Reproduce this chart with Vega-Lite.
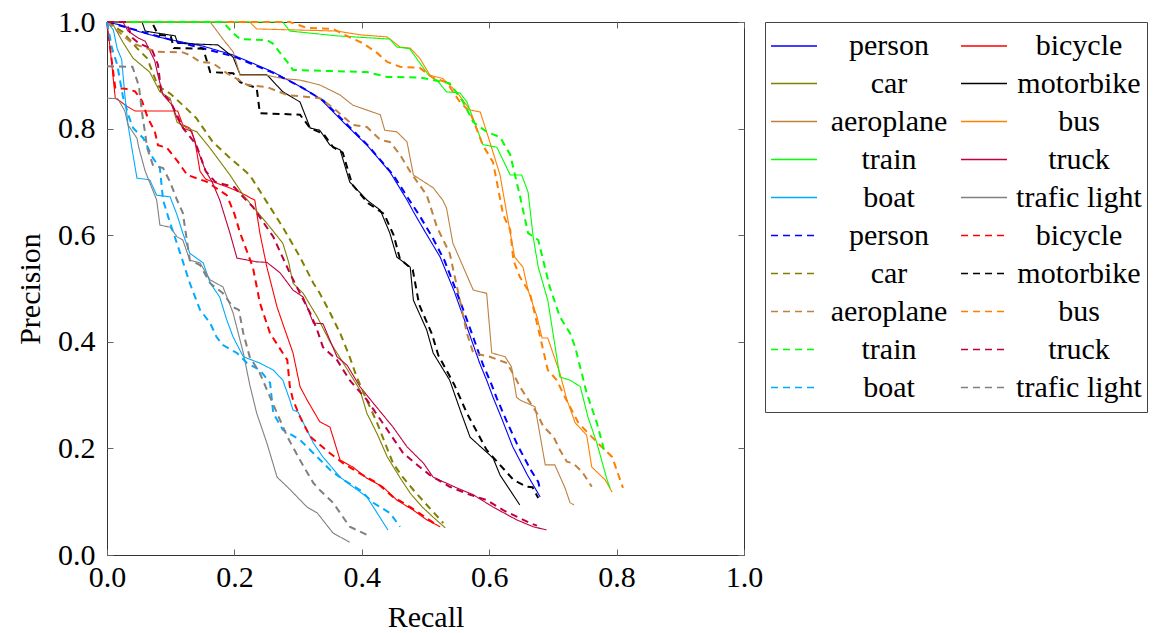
{
  "$schema": "https://vega.github.io/schema/vega-lite/v6.json",
  "width": 637,
  "height": 533,
  "autosize": {"type": "none"},
  "padding": {"left": 107, "top": 22, "right": 423, "bottom": 78},
  "background": "white",
  "config": {
    "font": "Liberation Serif",
    "view": {"stroke": "#333", "strokeWidth": 1},
    "axis": {"grid": false, "labelColor": "black", "titleColor": "black", "labelFont": "Liberation Serif", "titleFont": "Liberation Serif", "labelFontSize": 30, "titleFontSize": 30, "titleFontWeight": "normal", "tickColor": "#666", "tickWidth": 1, "domain": false, "labelFlush": false, "labelOverlap": false}
  },
  "data": {"values": [
    {"series":"person (A)","recall":0,"precision":1},{"series":"person (A)","recall":0.023,"precision":0.994},{"series":"person (A)","recall":0.05,"precision":0.982},{"series":"person (A)","recall":0.08,"precision":0.972},{"series":"person (A)","recall":0.115,"precision":0.963},{"series":"person (A)","recall":0.15,"precision":0.955},{"series":"person (A)","recall":0.198,"precision":0.938},{"series":"person (A)","recall":0.23,"precision":0.922},{"series":"person (A)","recall":0.261,"precision":0.906},{"series":"person (A)","recall":0.303,"precision":0.879},{"series":"person (A)","recall":0.334,"precision":0.857},{"series":"person (A)","recall":0.371,"precision":0.812},{"series":"person (A)","recall":0.408,"precision":0.769},{"series":"person (A)","recall":0.444,"precision":0.719},{"series":"person (A)","recall":0.471,"precision":0.666},{"series":"person (A)","recall":0.481,"precision":0.644},{"series":"person (A)","recall":0.5,"precision":0.605},{"series":"person (A)","recall":0.523,"precision":0.559},{"series":"person (A)","recall":0.545,"precision":0.495},{"series":"person (A)","recall":0.565,"precision":0.428},{"series":"person (A)","recall":0.585,"precision":0.36},{"series":"person (A)","recall":0.596,"precision":0.328},{"series":"person (A)","recall":0.606,"precision":0.296},{"series":"person (A)","recall":0.62,"precision":0.255},{"series":"person (A)","recall":0.637,"precision":0.203},{"series":"person (A)","recall":0.66,"precision":0.15},{"series":"person (A)","recall":0.68,"precision":0.109},
    {"series":"bicycle (A)","recall":0,"precision":1},{"series":"bicycle (A)","recall":0.005,"precision":0.95},{"series":"bicycle (A)","recall":0.013,"precision":0.857},{"series":"bicycle (A)","recall":0.02,"precision":0.852},{"series":"bicycle (A)","recall":0.031,"precision":0.842},{"series":"bicycle (A)","recall":0.044,"precision":0.833},{"series":"bicycle (A)","recall":0.111,"precision":0.833},{"series":"bicycle (A)","recall":0.119,"precision":0.807},{"series":"bicycle (A)","recall":0.13,"precision":0.801},{"series":"bicycle (A)","recall":0.138,"precision":0.777},{"series":"bicycle (A)","recall":0.146,"precision":0.72},{"series":"bicycle (A)","recall":0.155,"precision":0.705},{"series":"bicycle (A)","recall":0.19,"precision":0.69},{"series":"bicycle (A)","recall":0.21,"precision":0.68},{"series":"bicycle (A)","recall":0.225,"precision":0.67},{"series":"bicycle (A)","recall":0.232,"precision":0.666},{"series":"bicycle (A)","recall":0.24,"precision":0.604},{"series":"bicycle (A)","recall":0.251,"precision":0.54},{"series":"bicycle (A)","recall":0.267,"precision":0.465},{"series":"bicycle (A)","recall":0.28,"precision":0.42},{"series":"bicycle (A)","recall":0.292,"precision":0.379},{"series":"bicycle (A)","recall":0.303,"precision":0.316},{"series":"bicycle (A)","recall":0.314,"precision":0.291},{"series":"bicycle (A)","recall":0.334,"precision":0.25},{"series":"bicycle (A)","recall":0.35,"precision":0.24},{"series":"bicycle (A)","recall":0.366,"precision":0.178},{"series":"bicycle (A)","recall":0.386,"precision":0.165},{"series":"bicycle (A)","recall":0.408,"precision":0.144},{"series":"bicycle (A)","recall":0.433,"precision":0.128},{"series":"bicycle (A)","recall":0.455,"precision":0.103},{"series":"bicycle (A)","recall":0.481,"precision":0.084},{"series":"bicycle (A)","recall":0.502,"precision":0.066},{"series":"bicycle (A)","recall":0.523,"precision":0.053},
    {"series":"car (A)","recall":0,"precision":1},{"series":"car (A)","recall":0.01,"precision":0.994},{"series":"car (A)","recall":0.025,"precision":0.962},{"series":"car (A)","recall":0.041,"precision":0.932},{"series":"car (A)","recall":0.067,"precision":0.906},{"series":"car (A)","recall":0.083,"precision":0.869},{"series":"car (A)","recall":0.099,"precision":0.857},{"series":"car (A)","recall":0.11,"precision":0.812},{"series":"car (A)","recall":0.126,"precision":0.801},{"series":"car (A)","recall":0.141,"precision":0.794},{"series":"car (A)","recall":0.162,"precision":0.763},{"series":"car (A)","recall":0.193,"precision":0.713},{"series":"car (A)","recall":0.214,"precision":0.675},{"series":"car (A)","recall":0.24,"precision":0.638},{"series":"car (A)","recall":0.256,"precision":0.615},{"series":"car (A)","recall":0.276,"precision":0.585},{"series":"car (A)","recall":0.285,"precision":0.55},{"series":"car (A)","recall":0.292,"precision":0.51},{"series":"car (A)","recall":0.308,"precision":0.491},{"series":"car (A)","recall":0.33,"precision":0.447},{"series":"car (A)","recall":0.35,"precision":0.4},{"series":"car (A)","recall":0.371,"precision":0.36},{"series":"car (A)","recall":0.397,"precision":0.31},{"series":"car (A)","recall":0.408,"precision":0.266},{"series":"car (A)","recall":0.425,"precision":0.225},{"series":"car (A)","recall":0.44,"precision":0.184},{"series":"car (A)","recall":0.46,"precision":0.145},{"series":"car (A)","recall":0.476,"precision":0.116},{"series":"car (A)","recall":0.495,"precision":0.09},{"series":"car (A)","recall":0.512,"precision":0.071},{"series":"car (A)","recall":0.531,"precision":0.051},
    {"series":"motorbike (A)","recall":0,"precision":1},{"series":"motorbike (A)","recall":0.055,"precision":1},{"series":"motorbike (A)","recall":0.06,"precision":0.983},{"series":"motorbike (A)","recall":0.075,"precision":0.98},{"series":"motorbike (A)","recall":0.107,"precision":0.974},{"series":"motorbike (A)","recall":0.111,"precision":0.96},{"series":"motorbike (A)","recall":0.174,"precision":0.957},{"series":"motorbike (A)","recall":0.198,"precision":0.934},{"series":"motorbike (A)","recall":0.209,"precision":0.901},{"series":"motorbike (A)","recall":0.251,"precision":0.901},{"series":"motorbike (A)","recall":0.276,"precision":0.869},{"series":"motorbike (A)","recall":0.303,"precision":0.85},{"series":"motorbike (A)","recall":0.319,"precision":0.801},{"series":"motorbike (A)","recall":0.334,"precision":0.797},{"series":"motorbike (A)","recall":0.35,"precision":0.769},{"series":"motorbike (A)","recall":0.366,"precision":0.76},{"series":"motorbike (A)","recall":0.381,"precision":0.7},{"series":"motorbike (A)","recall":0.408,"precision":0.666},{"series":"motorbike (A)","recall":0.429,"precision":0.647},{"series":"motorbike (A)","recall":0.444,"precision":0.604},{"series":"motorbike (A)","recall":0.455,"precision":0.559},{"series":"motorbike (A)","recall":0.476,"precision":0.54},{"series":"motorbike (A)","recall":0.481,"precision":0.478},{"series":"motorbike (A)","recall":0.502,"precision":0.422},{"series":"motorbike (A)","recall":0.512,"precision":0.379},{"series":"motorbike (A)","recall":0.538,"precision":0.328},{"series":"motorbike (A)","recall":0.555,"precision":0.27},{"series":"motorbike (A)","recall":0.57,"precision":0.221},{"series":"motorbike (A)","recall":0.606,"precision":0.182},{"series":"motorbike (A)","recall":0.617,"precision":0.15},{"series":"motorbike (A)","recall":0.648,"precision":0.094},
    {"series":"aeroplane (A)","recall":0,"precision":1},{"series":"aeroplane (A)","recall":0.162,"precision":1},{"series":"aeroplane (A)","recall":0.182,"precision":0.968},{"series":"aeroplane (A)","recall":0.198,"precision":0.944},{"series":"aeroplane (A)","recall":0.209,"precision":0.9},{"series":"aeroplane (A)","recall":0.251,"precision":0.9},{"series":"aeroplane (A)","recall":0.276,"precision":0.894},{"series":"aeroplane (A)","recall":0.303,"precision":0.891},{"series":"aeroplane (A)","recall":0.334,"precision":0.882},{"series":"aeroplane (A)","recall":0.366,"precision":0.863},{"series":"aeroplane (A)","recall":0.386,"precision":0.844},{"series":"aeroplane (A)","recall":0.429,"precision":0.826},{"series":"aeroplane (A)","recall":0.436,"precision":0.797},{"series":"aeroplane (A)","recall":0.455,"precision":0.794},{"series":"aeroplane (A)","recall":0.471,"precision":0.775},{"series":"aeroplane (A)","recall":0.481,"precision":0.713},{"series":"aeroplane (A)","recall":0.512,"precision":0.689},{"series":"aeroplane (A)","recall":0.527,"precision":0.666},{"series":"aeroplane (A)","recall":0.533,"precision":0.651},{"series":"aeroplane (A)","recall":0.543,"precision":0.585},{"series":"aeroplane (A)","recall":0.575,"precision":0.497},{"series":"aeroplane (A)","recall":0.596,"precision":0.491},{"series":"aeroplane (A)","recall":0.604,"precision":0.379},{"series":"aeroplane (A)","recall":0.625,"precision":0.372},{"series":"aeroplane (A)","recall":0.635,"precision":0.353},{"series":"aeroplane (A)","recall":0.643,"precision":0.296},{"series":"aeroplane (A)","recall":0.648,"precision":0.291},{"series":"aeroplane (A)","recall":0.672,"precision":0.278},{"series":"aeroplane (A)","recall":0.688,"precision":0.169},{"series":"aeroplane (A)","recall":0.703,"precision":0.169},{"series":"aeroplane (A)","recall":0.719,"precision":0.126},{"series":"aeroplane (A)","recall":0.727,"precision":0.098},{"series":"aeroplane (A)","recall":0.733,"precision":0.094},
    {"series":"bus (A)","recall":0,"precision":1},{"series":"bus (A)","recall":0.224,"precision":1},{"series":"bus (A)","recall":0.235,"precision":0.987},{"series":"bus (A)","recall":0.361,"precision":0.983},{"series":"bus (A)","recall":0.397,"precision":0.976},{"series":"bus (A)","recall":0.44,"precision":0.972},{"series":"bus (A)","recall":0.46,"precision":0.953},{"series":"bus (A)","recall":0.476,"precision":0.951},{"series":"bus (A)","recall":0.491,"precision":0.932},{"series":"bus (A)","recall":0.507,"precision":0.9},{"series":"bus (A)","recall":0.527,"precision":0.894},{"series":"bus (A)","recall":0.549,"precision":0.869},{"series":"bus (A)","recall":0.57,"precision":0.835},{"series":"bus (A)","recall":0.586,"precision":0.831},{"series":"bus (A)","recall":0.601,"precision":0.775},{"series":"bus (A)","recall":0.617,"precision":0.713},{"series":"bus (A)","recall":0.628,"precision":0.638},{"series":"bus (A)","recall":0.64,"precision":0.559},{"series":"bus (A)","recall":0.653,"precision":0.54},{"series":"bus (A)","recall":0.661,"precision":0.497},{"series":"bus (A)","recall":0.675,"precision":0.447},{"series":"bus (A)","recall":0.683,"precision":0.407},{"series":"bus (A)","recall":0.692,"precision":0.407},{"series":"bus (A)","recall":0.711,"precision":0.341},{"series":"bus (A)","recall":0.722,"precision":0.291},{"series":"bus (A)","recall":0.735,"precision":0.248},{"series":"bus (A)","recall":0.753,"precision":0.225},{"series":"bus (A)","recall":0.761,"precision":0.165},{"series":"bus (A)","recall":0.782,"precision":0.141},{"series":"bus (A)","recall":0.793,"precision":0.118},
    {"series":"train (A)","recall":0,"precision":1},{"series":"train (A)","recall":0.276,"precision":1},{"series":"train (A)","recall":0.287,"precision":0.983},{"series":"train (A)","recall":0.361,"precision":0.974},{"series":"train (A)","recall":0.444,"precision":0.968},{"series":"train (A)","recall":0.455,"precision":0.953},{"series":"train (A)","recall":0.475,"precision":0.95},{"series":"train (A)","recall":0.49,"precision":0.925},{"series":"train (A)","recall":0.505,"precision":0.9},{"series":"train (A)","recall":0.518,"precision":0.891},{"series":"train (A)","recall":0.533,"precision":0.869},{"series":"train (A)","recall":0.554,"precision":0.867},{"series":"train (A)","recall":0.565,"precision":0.85},{"series":"train (A)","recall":0.59,"precision":0.77},{"series":"train (A)","recall":0.612,"precision":0.765},{"series":"train (A)","recall":0.633,"precision":0.713},{"series":"train (A)","recall":0.651,"precision":0.713},{"series":"train (A)","recall":0.661,"precision":0.681},{"series":"train (A)","recall":0.669,"precision":0.597},{"series":"train (A)","recall":0.677,"precision":0.54},{"series":"train (A)","recall":0.692,"precision":0.478},{"series":"train (A)","recall":0.711,"precision":0.334},{"series":"train (A)","recall":0.727,"precision":0.328},{"series":"train (A)","recall":0.743,"precision":0.316},{"series":"train (A)","recall":0.755,"precision":0.259},{"series":"train (A)","recall":0.769,"precision":0.21},{"series":"train (A)","recall":0.785,"precision":0.141},{"series":"train (A)","recall":0.79,"precision":0.125},
    {"series":"truck (A)","recall":0,"precision":1},{"series":"truck (A)","recall":0.025,"precision":1},{"series":"truck (A)","recall":0.033,"precision":0.983},{"series":"truck (A)","recall":0.049,"precision":0.97},{"series":"truck (A)","recall":0.06,"precision":0.964},{"series":"truck (A)","recall":0.075,"precision":0.927},{"series":"truck (A)","recall":0.08,"precision":0.9},{"series":"truck (A)","recall":0.088,"precision":0.863},{"series":"truck (A)","recall":0.102,"precision":0.844},{"series":"truck (A)","recall":0.11,"precision":0.82},{"series":"truck (A)","recall":0.119,"precision":0.801},{"series":"truck (A)","recall":0.133,"precision":0.795},{"series":"truck (A)","recall":0.141,"precision":0.764},{"series":"truck (A)","recall":0.155,"precision":0.72},{"series":"truck (A)","recall":0.165,"precision":0.7},{"series":"truck (A)","recall":0.177,"precision":0.666},{"series":"truck (A)","recall":0.193,"precision":0.604},{"series":"truck (A)","recall":0.204,"precision":0.557},{"series":"truck (A)","recall":0.235,"precision":0.55},{"series":"truck (A)","recall":0.251,"precision":0.549},{"series":"truck (A)","recall":0.272,"precision":0.529},{"series":"truck (A)","recall":0.292,"precision":0.497},{"series":"truck (A)","recall":0.308,"precision":0.484},{"series":"truck (A)","recall":0.324,"precision":0.435},{"series":"truck (A)","recall":0.339,"precision":0.434},{"series":"truck (A)","recall":0.361,"precision":0.372},{"series":"truck (A)","recall":0.377,"precision":0.356},{"series":"truck (A)","recall":0.397,"precision":0.316},{"series":"truck (A)","recall":0.418,"precision":0.285},{"series":"truck (A)","recall":0.449,"precision":0.24},{"series":"truck (A)","recall":0.471,"precision":0.203},{"series":"truck (A)","recall":0.497,"precision":0.172},{"series":"truck (A)","recall":0.512,"precision":0.146},{"series":"truck (A)","recall":0.549,"precision":0.126},{"series":"truck (A)","recall":0.575,"precision":0.113},{"series":"truck (A)","recall":0.606,"precision":0.09},{"series":"truck (A)","recall":0.643,"precision":0.066},{"series":"truck (A)","recall":0.669,"precision":0.053},{"series":"truck (A)","recall":0.69,"precision":0.047},
    {"series":"boat (A)","recall":0,"precision":1},{"series":"boat (A)","recall":0.01,"precision":0.985},{"series":"boat (A)","recall":0.016,"precision":0.95},{"series":"boat (A)","recall":0.023,"precision":0.93},{"series":"boat (A)","recall":0.028,"precision":0.863},{"series":"boat (A)","recall":0.033,"precision":0.807},{"series":"boat (A)","recall":0.039,"precision":0.764},{"series":"boat (A)","recall":0.047,"precision":0.707},{"series":"boat (A)","recall":0.067,"precision":0.704},{"series":"boat (A)","recall":0.078,"precision":0.675},{"series":"boat (A)","recall":0.099,"precision":0.672},{"series":"boat (A)","recall":0.11,"precision":0.638},{"series":"boat (A)","recall":0.119,"precision":0.604},{"series":"boat (A)","recall":0.13,"precision":0.566},{"series":"boat (A)","recall":0.151,"precision":0.548},{"series":"boat (A)","recall":0.162,"precision":0.51},{"series":"boat (A)","recall":0.177,"precision":0.484},{"series":"boat (A)","recall":0.188,"precision":0.441},{"series":"boat (A)","recall":0.198,"precision":0.409},{"series":"boat (A)","recall":0.214,"precision":0.372},{"series":"boat (A)","recall":0.24,"precision":0.36},{"series":"boat (A)","recall":0.261,"precision":0.347},{"series":"boat (A)","recall":0.276,"precision":0.328},{"series":"boat (A)","recall":0.287,"precision":0.291},{"series":"boat (A)","recall":0.292,"precision":0.272},{"series":"boat (A)","recall":0.3,"precision":0.268},{"series":"boat (A)","recall":0.324,"precision":0.21},{"series":"boat (A)","recall":0.339,"precision":0.184},{"series":"boat (A)","recall":0.366,"precision":0.146},{"series":"boat (A)","recall":0.386,"precision":0.128},{"series":"boat (A)","recall":0.408,"precision":0.109},{"series":"boat (A)","recall":0.424,"precision":0.079},{"series":"boat (A)","recall":0.441,"precision":0.047},
    {"series":"trafic light (A)","recall":0,"precision":0.857},{"series":"trafic light (A)","recall":0.017,"precision":0.856},{"series":"trafic light (A)","recall":0.028,"precision":0.833},{"series":"trafic light (A)","recall":0.033,"precision":0.807},{"series":"trafic light (A)","recall":0.047,"precision":0.782},{"series":"trafic light (A)","recall":0.05,"precision":0.764},{"series":"trafic light (A)","recall":0.06,"precision":0.72},{"series":"trafic light (A)","recall":0.07,"precision":0.69},{"series":"trafic light (A)","recall":0.078,"precision":0.666},{"series":"trafic light (A)","recall":0.083,"precision":0.619},{"series":"trafic light (A)","recall":0.099,"precision":0.615},{"series":"trafic light (A)","recall":0.11,"precision":0.597},{"series":"trafic light (A)","recall":0.119,"precision":0.591},{"series":"trafic light (A)","recall":0.13,"precision":0.553},{"series":"trafic light (A)","recall":0.146,"precision":0.548},{"series":"trafic light (A)","recall":0.162,"precision":0.516},{"series":"trafic light (A)","recall":0.182,"precision":0.503},{"series":"trafic light (A)","recall":0.198,"precision":0.454},{"series":"trafic light (A)","recall":0.214,"precision":0.379},{"series":"trafic light (A)","recall":0.224,"precision":0.32},{"series":"trafic light (A)","recall":0.235,"precision":0.266},{"series":"trafic light (A)","recall":0.251,"precision":0.21},{"series":"trafic light (A)","recall":0.267,"precision":0.146},{"series":"trafic light (A)","recall":0.283,"precision":0.128},{"series":"trafic light (A)","recall":0.314,"precision":0.09},{"series":"trafic light (A)","recall":0.33,"precision":0.079},{"series":"trafic light (A)","recall":0.355,"precision":0.041},{"series":"trafic light (A)","recall":0.381,"precision":0.024},
    {"series":"person (B)","recall":0,"precision":1},{"series":"person (B)","recall":0.03,"precision":0.99},{"series":"person (B)","recall":0.06,"precision":0.98},{"series":"person (B)","recall":0.12,"precision":0.96},{"series":"person (B)","recall":0.2,"precision":0.935},{"series":"person (B)","recall":0.26,"precision":0.905},{"series":"person (B)","recall":0.305,"precision":0.878},{"series":"person (B)","recall":0.34,"precision":0.852},{"series":"person (B)","recall":0.375,"precision":0.81},{"series":"person (B)","recall":0.41,"precision":0.768},{"series":"person (B)","recall":0.45,"precision":0.712},{"series":"person (B)","recall":0.475,"precision":0.665},{"series":"person (B)","recall":0.49,"precision":0.638},{"series":"person (B)","recall":0.51,"precision":0.598},{"series":"person (B)","recall":0.53,"precision":0.552},{"series":"person (B)","recall":0.55,"precision":0.49},{"series":"person (B)","recall":0.57,"precision":0.425},{"series":"person (B)","recall":0.59,"precision":0.358},{"series":"person (B)","recall":0.602,"precision":0.325},{"series":"person (B)","recall":0.612,"precision":0.294},{"series":"person (B)","recall":0.627,"precision":0.252},{"series":"person (B)","recall":0.645,"precision":0.205},{"series":"person (B)","recall":0.665,"precision":0.16},{"series":"person (B)","recall":0.677,"precision":0.137},{"series":"person (B)","recall":0.68,"precision":0.122},
    {"series":"bicycle (B)","recall":0,"precision":1},{"series":"bicycle (B)","recall":0.005,"precision":0.95},{"series":"bicycle (B)","recall":0.013,"precision":0.876},{"series":"bicycle (B)","recall":0.028,"precision":0.875},{"series":"bicycle (B)","recall":0.044,"precision":0.87},{"series":"bicycle (B)","recall":0.055,"precision":0.852},{"series":"bicycle (B)","recall":0.064,"precision":0.82},{"series":"bicycle (B)","recall":0.075,"precision":0.795},{"series":"bicycle (B)","recall":0.08,"precision":0.769},{"series":"bicycle (B)","recall":0.094,"precision":0.764},{"series":"bicycle (B)","recall":0.11,"precision":0.74},{"series":"bicycle (B)","recall":0.126,"precision":0.713},{"series":"bicycle (B)","recall":0.157,"precision":0.7},{"series":"bicycle (B)","recall":0.188,"precision":0.675},{"series":"bicycle (B)","recall":0.2,"precision":0.64},{"series":"bicycle (B)","recall":0.209,"precision":0.604},{"series":"bicycle (B)","recall":0.229,"precision":0.54},{"series":"bicycle (B)","recall":0.24,"precision":0.473},{"series":"bicycle (B)","recall":0.256,"precision":0.416},{"series":"bicycle (B)","recall":0.27,"precision":0.39},{"series":"bicycle (B)","recall":0.283,"precision":0.366},{"series":"bicycle (B)","recall":0.287,"precision":0.316},{"series":"bicycle (B)","recall":0.292,"precision":0.291},{"series":"bicycle (B)","recall":0.303,"precision":0.259},{"series":"bicycle (B)","recall":0.319,"precision":0.222},{"series":"bicycle (B)","recall":0.35,"precision":0.191},{"series":"bicycle (B)","recall":0.371,"precision":0.172},{"series":"bicycle (B)","recall":0.397,"precision":0.153},{"series":"bicycle (B)","recall":0.424,"precision":0.135},{"series":"bicycle (B)","recall":0.449,"precision":0.109},{"series":"bicycle (B)","recall":0.476,"precision":0.09},{"series":"bicycle (B)","recall":0.518,"precision":0.056},
    {"series":"car (B)","recall":0,"precision":1},{"series":"car (B)","recall":0.025,"precision":0.981},{"series":"car (B)","recall":0.047,"precision":0.951},{"series":"car (B)","recall":0.063,"precision":0.932},{"series":"car (B)","recall":0.08,"precision":0.88},{"series":"car (B)","recall":0.1,"precision":0.865},{"series":"car (B)","recall":0.119,"precision":0.844},{"series":"car (B)","recall":0.14,"precision":0.82},{"series":"car (B)","recall":0.166,"precision":0.775},{"series":"car (B)","recall":0.193,"precision":0.745},{"series":"car (B)","recall":0.224,"precision":0.713},{"series":"car (B)","recall":0.251,"precision":0.662},{"series":"car (B)","recall":0.276,"precision":0.615},{"series":"car (B)","recall":0.303,"precision":0.559},{"series":"car (B)","recall":0.324,"precision":0.51},{"series":"car (B)","recall":0.334,"precision":0.491},{"series":"car (B)","recall":0.35,"precision":0.455},{"series":"car (B)","recall":0.366,"precision":0.416},{"series":"car (B)","recall":0.38,"precision":0.375},{"series":"car (B)","recall":0.392,"precision":0.334},{"series":"car (B)","recall":0.408,"precision":0.29},{"series":"car (B)","recall":0.424,"precision":0.248},{"series":"car (B)","recall":0.449,"precision":0.172},{"series":"car (B)","recall":0.465,"precision":0.145},{"series":"car (B)","recall":0.481,"precision":0.122},{"series":"car (B)","recall":0.505,"precision":0.09},{"series":"car (B)","recall":0.528,"precision":0.06},
    {"series":"motorbike (B)","recall":0,"precision":1},{"series":"motorbike (B)","recall":0.07,"precision":1},{"series":"motorbike (B)","recall":0.075,"precision":0.989},{"series":"motorbike (B)","recall":0.08,"precision":0.976},{"series":"motorbike (B)","recall":0.1,"precision":0.974},{"series":"motorbike (B)","recall":0.105,"precision":0.951},{"series":"motorbike (B)","recall":0.151,"precision":0.95},{"series":"motorbike (B)","recall":0.162,"precision":0.906},{"series":"motorbike (B)","recall":0.198,"precision":0.904},{"series":"motorbike (B)","recall":0.209,"precision":0.887},{"series":"motorbike (B)","recall":0.235,"precision":0.876},{"series":"motorbike (B)","recall":0.24,"precision":0.829},{"series":"motorbike (B)","recall":0.303,"precision":0.826},{"series":"motorbike (B)","recall":0.319,"precision":0.801},{"series":"motorbike (B)","recall":0.34,"precision":0.79},{"series":"motorbike (B)","recall":0.355,"precision":0.765},{"series":"motorbike (B)","recall":0.37,"precision":0.755},{"series":"motorbike (B)","recall":0.385,"precision":0.695},{"series":"motorbike (B)","recall":0.41,"precision":0.66},{"series":"motorbike (B)","recall":0.435,"precision":0.64},{"series":"motorbike (B)","recall":0.45,"precision":0.6},{"series":"motorbike (B)","recall":0.46,"precision":0.555},{"series":"motorbike (B)","recall":0.48,"precision":0.535},{"series":"motorbike (B)","recall":0.49,"precision":0.47},{"series":"motorbike (B)","recall":0.51,"precision":0.415},{"series":"motorbike (B)","recall":0.52,"precision":0.375},{"series":"motorbike (B)","recall":0.545,"precision":0.32},{"series":"motorbike (B)","recall":0.565,"precision":0.266},{"series":"motorbike (B)","recall":0.596,"precision":0.197},{"series":"motorbike (B)","recall":0.638,"precision":0.141},{"series":"motorbike (B)","recall":0.659,"precision":0.128},{"series":"motorbike (B)","recall":0.668,"precision":0.127},{"series":"motorbike (B)","recall":0.677,"precision":0.107},
    {"series":"aeroplane (B)","recall":0,"precision":1},{"series":"aeroplane (B)","recall":0.02,"precision":0.98},{"series":"aeroplane (B)","recall":0.04,"precision":0.96},{"series":"aeroplane (B)","recall":0.078,"precision":0.944},{"series":"aeroplane (B)","recall":0.119,"precision":0.943},{"series":"aeroplane (B)","recall":0.13,"precision":0.938},{"series":"aeroplane (B)","recall":0.146,"precision":0.925},{"series":"aeroplane (B)","recall":0.166,"precision":0.923},{"series":"aeroplane (B)","recall":0.188,"precision":0.904},{"series":"aeroplane (B)","recall":0.22,"precision":0.882},{"series":"aeroplane (B)","recall":0.251,"precision":0.878},{"series":"aeroplane (B)","recall":0.283,"precision":0.863},{"series":"aeroplane (B)","recall":0.334,"precision":0.857},{"series":"aeroplane (B)","recall":0.355,"precision":0.839},{"series":"aeroplane (B)","recall":0.386,"precision":0.807},{"series":"aeroplane (B)","recall":0.408,"precision":0.803},{"series":"aeroplane (B)","recall":0.429,"precision":0.779},{"series":"aeroplane (B)","recall":0.444,"precision":0.775},{"series":"aeroplane (B)","recall":0.46,"precision":0.751},{"series":"aeroplane (B)","recall":0.476,"precision":0.719},{"series":"aeroplane (B)","recall":0.502,"precision":0.675},{"series":"aeroplane (B)","recall":0.512,"precision":0.638},{"series":"aeroplane (B)","recall":0.518,"precision":0.615},{"series":"aeroplane (B)","recall":0.538,"precision":0.566},{"series":"aeroplane (B)","recall":0.554,"precision":0.478},{"series":"aeroplane (B)","recall":0.565,"precision":0.416},{"series":"aeroplane (B)","recall":0.575,"precision":0.379},{"series":"aeroplane (B)","recall":0.601,"precision":0.372},{"series":"aeroplane (B)","recall":0.628,"precision":0.36},{"series":"aeroplane (B)","recall":0.643,"precision":0.328},{"series":"aeroplane (B)","recall":0.648,"precision":0.316},{"series":"aeroplane (B)","recall":0.675,"precision":0.266},{"series":"aeroplane (B)","recall":0.685,"precision":0.241},{"series":"aeroplane (B)","recall":0.701,"precision":0.222},{"series":"aeroplane (B)","recall":0.711,"precision":0.197},{"series":"aeroplane (B)","recall":0.722,"precision":0.175},{"series":"aeroplane (B)","recall":0.732,"precision":0.172},{"series":"aeroplane (B)","recall":0.746,"precision":0.156},{"series":"aeroplane (B)","recall":0.761,"precision":0.128},
    {"series":"bus (B)","recall":0,"precision":1},{"series":"bus (B)","recall":0.287,"precision":1},{"series":"bus (B)","recall":0.314,"precision":0.989},{"series":"bus (B)","recall":0.355,"precision":0.987},{"series":"bus (B)","recall":0.371,"precision":0.977},{"series":"bus (B)","recall":0.402,"precision":0.96},{"series":"bus (B)","recall":0.424,"precision":0.942},{"series":"bus (B)","recall":0.44,"precision":0.925},{"series":"bus (B)","recall":0.46,"precision":0.916},{"series":"bus (B)","recall":0.491,"precision":0.914},{"series":"bus (B)","recall":0.512,"precision":0.895},{"series":"bus (B)","recall":0.533,"precision":0.887},{"series":"bus (B)","recall":0.554,"precision":0.85},{"series":"bus (B)","recall":0.57,"precision":0.831},{"series":"bus (B)","recall":0.59,"precision":0.769},{"series":"bus (B)","recall":0.606,"precision":0.737},{"series":"bus (B)","recall":0.622,"precision":0.638},{"series":"bus (B)","recall":0.633,"precision":0.61},{"series":"bus (B)","recall":0.638,"precision":0.553},{"series":"bus (B)","recall":0.648,"precision":0.522},{"series":"bus (B)","recall":0.664,"precision":0.491},{"series":"bus (B)","recall":0.68,"precision":0.409},{"series":"bus (B)","recall":0.692,"precision":0.347},{"series":"bus (B)","recall":0.706,"precision":0.328},{"series":"bus (B)","recall":0.719,"precision":0.296},{"series":"bus (B)","recall":0.74,"precision":0.248},{"series":"bus (B)","recall":0.755,"precision":0.229},{"series":"bus (B)","recall":0.774,"precision":0.206},{"series":"bus (B)","recall":0.793,"precision":0.184},{"series":"bus (B)","recall":0.81,"precision":0.126},
    {"series":"train (B)","recall":0,"precision":1},{"series":"train (B)","recall":0.182,"precision":1},{"series":"train (B)","recall":0.198,"precision":0.979},{"series":"train (B)","recall":0.209,"precision":0.968},{"series":"train (B)","recall":0.251,"precision":0.966},{"series":"train (B)","recall":0.26,"precision":0.96},{"series":"train (B)","recall":0.283,"precision":0.925},{"series":"train (B)","recall":0.292,"precision":0.91},{"series":"train (B)","recall":0.408,"precision":0.906},{"series":"train (B)","recall":0.44,"precision":0.897},{"series":"train (B)","recall":0.491,"precision":0.896},{"series":"train (B)","recall":0.512,"precision":0.891},{"series":"train (B)","recall":0.538,"precision":0.885},{"series":"train (B)","recall":0.559,"precision":0.85},{"series":"train (B)","recall":0.575,"precision":0.812},{"series":"train (B)","recall":0.596,"precision":0.794},{"series":"train (B)","recall":0.617,"precision":0.784},{"series":"train (B)","recall":0.633,"precision":0.751},{"series":"train (B)","recall":0.648,"precision":0.675},{"series":"train (B)","recall":0.661,"precision":0.604},{"series":"train (B)","recall":0.677,"precision":0.591},{"series":"train (B)","recall":0.695,"precision":0.503},{"series":"train (B)","recall":0.711,"precision":0.447},{"series":"train (B)","recall":0.727,"precision":0.416},{"series":"train (B)","recall":0.735,"precision":0.39},{"series":"train (B)","recall":0.753,"precision":0.304},{"series":"train (B)","recall":0.769,"precision":0.248},{"series":"train (B)","recall":0.779,"precision":0.203},{"series":"train (B)","recall":0.782,"precision":0.191},
    {"series":"truck (B)","recall":0,"precision":1},{"series":"truck (B)","recall":0.03,"precision":1},{"series":"truck (B)","recall":0.04,"precision":0.97},{"series":"truck (B)","recall":0.05,"precision":0.96},{"series":"truck (B)","recall":0.07,"precision":0.95},{"series":"truck (B)","recall":0.08,"precision":0.92},{"series":"truck (B)","recall":0.085,"precision":0.87},{"series":"truck (B)","recall":0.1,"precision":0.85},{"series":"truck (B)","recall":0.12,"precision":0.8},{"series":"truck (B)","recall":0.14,"precision":0.77},{"series":"truck (B)","recall":0.155,"precision":0.72},{"series":"truck (B)","recall":0.17,"precision":0.7},{"series":"truck (B)","recall":0.2,"precision":0.69},{"series":"truck (B)","recall":0.215,"precision":0.67},{"series":"truck (B)","recall":0.229,"precision":0.653},{"series":"truck (B)","recall":0.261,"precision":0.597},{"series":"truck (B)","recall":0.287,"precision":0.529},{"series":"truck (B)","recall":0.303,"precision":0.491},{"series":"truck (B)","recall":0.319,"precision":0.454},{"series":"truck (B)","recall":0.33,"precision":0.422},{"series":"truck (B)","recall":0.339,"precision":0.39},{"series":"truck (B)","recall":0.361,"precision":0.366},{"series":"truck (B)","recall":0.381,"precision":0.328},{"series":"truck (B)","recall":0.408,"precision":0.291},{"series":"truck (B)","recall":0.44,"precision":0.235},{"series":"truck (B)","recall":0.465,"precision":0.191},{"series":"truck (B)","recall":0.491,"precision":0.165},{"series":"truck (B)","recall":0.507,"precision":0.15},{"series":"truck (B)","recall":0.538,"precision":0.128},{"series":"truck (B)","recall":0.57,"precision":0.113},{"series":"truck (B)","recall":0.596,"precision":0.103},{"series":"truck (B)","recall":0.622,"precision":0.084},{"series":"truck (B)","recall":0.664,"precision":0.06},{"series":"truck (B)","recall":0.675,"precision":0.055},
    {"series":"boat (B)","recall":0,"precision":1},{"series":"boat (B)","recall":0.008,"precision":0.95},{"series":"boat (B)","recall":0.016,"precision":0.92},{"series":"boat (B)","recall":0.025,"precision":0.86},{"series":"boat (B)","recall":0.035,"precision":0.82},{"series":"boat (B)","recall":0.041,"precision":0.801},{"series":"boat (B)","recall":0.057,"precision":0.782},{"series":"boat (B)","recall":0.072,"precision":0.745},{"series":"boat (B)","recall":0.083,"precision":0.726},{"series":"boat (B)","recall":0.088,"precision":0.666},{"series":"boat (B)","recall":0.099,"precision":0.623},{"series":"boat (B)","recall":0.115,"precision":0.566},{"series":"boat (B)","recall":0.13,"precision":0.51},{"series":"boat (B)","recall":0.146,"precision":0.46},{"series":"boat (B)","recall":0.162,"precision":0.435},{"series":"boat (B)","recall":0.172,"precision":0.409},{"series":"boat (B)","recall":0.182,"precision":0.394},{"series":"boat (B)","recall":0.204,"precision":0.379},{"series":"boat (B)","recall":0.22,"precision":0.36},{"series":"boat (B)","recall":0.24,"precision":0.347},{"series":"boat (B)","recall":0.256,"precision":0.323},{"series":"boat (B)","recall":0.261,"precision":0.266},{"series":"boat (B)","recall":0.276,"precision":0.235},{"series":"boat (B)","recall":0.303,"precision":0.216},{"series":"boat (B)","recall":0.324,"precision":0.191},{"series":"boat (B)","recall":0.35,"precision":0.16},{"series":"boat (B)","recall":0.371,"precision":0.141},{"series":"boat (B)","recall":0.397,"precision":0.122},{"series":"boat (B)","recall":0.418,"precision":0.098},{"series":"boat (B)","recall":0.444,"precision":0.079},{"series":"boat (B)","recall":0.46,"precision":0.053},
    {"series":"trafic light (B)","recall":0,"precision":0.917},{"series":"trafic light (B)","recall":0.04,"precision":0.916},{"series":"trafic light (B)","recall":0.05,"precision":0.88},{"series":"trafic light (B)","recall":0.055,"precision":0.83},{"series":"trafic light (B)","recall":0.06,"precision":0.79},{"series":"trafic light (B)","recall":0.063,"precision":0.764},{"series":"trafic light (B)","recall":0.072,"precision":0.732},{"series":"trafic light (B)","recall":0.088,"precision":0.726},{"series":"trafic light (B)","recall":0.099,"precision":0.7},{"series":"trafic light (B)","recall":0.11,"precision":0.666},{"series":"trafic light (B)","recall":0.119,"precision":0.642},{"series":"trafic light (B)","recall":0.13,"precision":0.553},{"series":"trafic light (B)","recall":0.146,"precision":0.544},{"series":"trafic light (B)","recall":0.162,"precision":0.51},{"series":"trafic light (B)","recall":0.182,"precision":0.491},{"series":"trafic light (B)","recall":0.198,"precision":0.465},{"series":"trafic light (B)","recall":0.207,"precision":0.46},{"series":"trafic light (B)","recall":0.214,"precision":0.416},{"series":"trafic light (B)","recall":0.224,"precision":0.372},{"series":"trafic light (B)","recall":0.24,"precision":0.341},{"series":"trafic light (B)","recall":0.256,"precision":0.296},{"series":"trafic light (B)","recall":0.267,"precision":0.266},{"series":"trafic light (B)","recall":0.283,"precision":0.222},{"series":"trafic light (B)","recall":0.303,"precision":0.178},{"series":"trafic light (B)","recall":0.324,"precision":0.135},{"series":"trafic light (B)","recall":0.334,"precision":0.122},{"series":"trafic light (B)","recall":0.355,"precision":0.098},{"series":"trafic light (B)","recall":0.381,"precision":0.053},{"series":"trafic light (B)","recall":0.408,"precision":0.038}
  ]},
  "layer": [
    {
      "transform": [{"filter": "indexof(datum.series, '(A)') >= 0"}],
      "mark": {"type": "line", "strokeWidth": 1.1, "interpolate": "linear"},
      "encoding": {
        "x": {"field": "recall", "type": "quantitative", "scale": {"domain": [0, 1], "nice": false, "zero": true},
              "axis": {"orient": "bottom", "values": [0, 0.2, 0.4, 0.6, 0.8, 1], "format": ".1f", "title": "Recall", "offset": -6, "tickSize": 6, "labelPadding": 7, "titlePadding": 10}},
        "y": {"field": "precision", "type": "quantitative", "scale": {"domain": [0, 1], "nice": false, "zero": true},
              "axis": {"orient": "left", "values": [0, 0.2, 0.4, 0.6, 0.8, 1], "format": ".1f", "title": "Precision", "offset": -6, "tickSize": 6, "labelPadding": 12, "titlePadding": 12}},
        "color": {"field": "series", "type": "nominal",
          "scale": {"domain": ["person (A)","car (A)","aeroplane (A)","train (A)","boat (A)","person (B)","car (B)","aeroplane (B)","train (B)","boat (B)","bicycle (A)","motorbike (A)","bus (A)","truck (A)","trafic light (A)","bicycle (B)","motorbike (B)","bus (B)","truck (B)","trafic light (B)"],
                    "range": ["#0000ff","#808000","#bf8040","#00ff00","#00aaff","#0000ff","#808000","#bf8040","#00ff00","#00aaff","#ff0000","#000000","#ff8000","#bf0040","#808080","#ff0000","#000000","#ff8000","#bf0040","#808080"]},
          "legend": {"orient": "none", "legendX": 658, "legendY": 0, "columns": 2, "title": null, "symbolType": "stroke", "symbolSize": 2116, "symbolStrokeWidth": 1.5,
                     "labelFont": "Liberation Serif", "labelFontSize": 30, "labelColor": "black", "labelAlign": "center", "labelOffset": 71, "labelLimit": 400,
                     "labelExpr": "slice(datum.label, 0, -4)", "strokeColor": "#444", "fillColor": "white", "padding": 5, "clipHeight": 37.1, "rowPadding": 0, "columnPadding": 8, "gridAlign": "all"}},
        "strokeDash": {"field": "series", "type": "nominal",
          "scale": {"domain": ["person (A)","car (A)","aeroplane (A)","train (A)","boat (A)","person (B)","car (B)","aeroplane (B)","train (B)","boat (B)","bicycle (A)","motorbike (A)","bus (A)","truck (A)","trafic light (A)","bicycle (B)","motorbike (B)","bus (B)","truck (B)","trafic light (B)"],
                    "range": [[1,0],[1,0],[1,0],[1,0],[1,0],[7,5],[7,5],[7,5],[7,5],[7,5],[1,0],[1,0],[1,0],[1,0],[1,0],[7,5],[7,5],[7,5],[7,5],[7,5]]}}
      }
    },
    {
      "transform": [{"filter": "indexof(datum.series, '(B)') >= 0"}],
      "mark": {"type": "line", "strokeWidth": 2, "interpolate": "linear"},
      "encoding": {
        "x": {"field": "recall", "type": "quantitative", "axis": {"orient": "top", "values": [0, 0.2, 0.4, 0.6, 0.8, 1], "labels": false, "title": null, "offset": -6, "tickSize": 6}},
        "y": {"field": "precision", "type": "quantitative", "axis": {"orient": "right", "values": [0, 0.2, 0.4, 0.6, 0.8, 1], "labels": false, "title": null, "offset": -6, "tickSize": 6}},
        "color": {"field": "series", "type": "nominal"},
        "strokeDash": {"field": "series", "type": "nominal"}
      }
    }
  ],
  "resolve": {"axis": {"x": "independent", "y": "independent"}}
}
